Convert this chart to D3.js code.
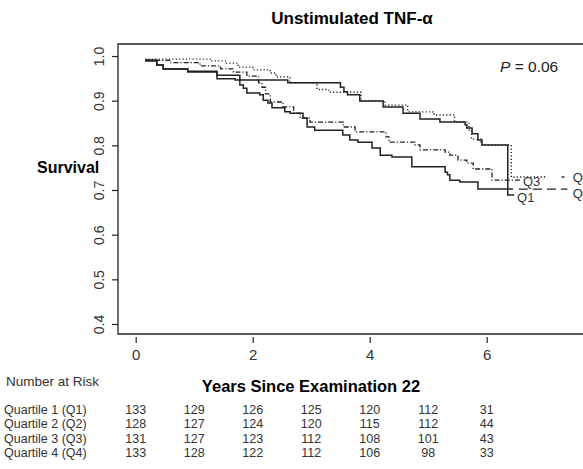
<!DOCTYPE html>
<html><head><meta charset="utf-8">
<script src="https://cdn.jsdelivr.net/npm/d3@7"></script>
<style>body{margin:0;background:#fff}svg{display:block}</style>
</head><body><svg id="c" width="583" height="469"></svg>
<script>
// ---- data ----
const q1Times = [0.16,0.36,0.47,0.89,1.39,1.78,2.6,3.5,3.56,3.62,3.83,4.23,4.57,4.86,5.2,5.63,5.66,5.75,5.85,5.92,6.36,6.47];
const q1Surv  = [0.991,0.98,0.971,0.966,0.957,0.946,0.94,0.93,0.92,0.913,0.899,0.886,0.872,0.859,0.852,0.846,0.839,0.826,0.812,0.801,0.689,0.689];
const q2Times = [0.16,1.3,1.55,1.75,2.0,2.3,2.4,2.64,3.1,3.3,3.85,4.26,4.65,5.1,5.45,5.7,5.74,5.9,6.42,7.0];
const q2Surv  = [0.993,0.989,0.984,0.975,0.969,0.962,0.953,0.94,0.925,0.919,0.899,0.89,0.875,0.868,0.852,0.834,0.814,0.801,0.729,0.729];
const q3Times = [0.16,0.6,1.1,1.45,1.67,1.9,2.1,2.16,2.22,2.3,2.52,2.7,2.81,2.98,3.55,3.75,4.28,4.33,4.77,4.86,5.29,5.37,5.51,5.66,5.77,6.09,6.58];
const q3Surv  = [0.99,0.985,0.978,0.971,0.964,0.955,0.94,0.93,0.915,0.897,0.886,0.872,0.861,0.852,0.841,0.83,0.819,0.807,0.801,0.79,0.785,0.778,0.767,0.76,0.747,0.722,0.722];
const q4Times = [0.16,0.36,0.47,0.89,1.39,1.7,1.78,1.84,1.9,2.12,2.18,2.26,2.33,2.55,2.64,2.86,2.93,3.06,3.54,3.66,3.8,4.04,4.18,4.38,4.72,5.29,5.33,5.37,5.54,5.85,6.45];
const q4Surv  = [0.989,0.98,0.971,0.964,0.949,0.946,0.935,0.928,0.917,0.913,0.901,0.895,0.884,0.875,0.872,0.861,0.841,0.834,0.823,0.812,0.807,0.794,0.778,0.774,0.752,0.74,0.734,0.722,0.718,0.702,0.702];

const yTicks = [0.4,0.5,0.6,0.7,0.8,0.9,1.0];
const xTicks = [0,2,4,6];
const riskYears = [0,1,2,3,4,5,6];
const riskLabels = ["Quartile 1 (Q1)","Quartile 2 (Q2)","Quartile 3 (Q3)","Quartile 4 (Q4)"];
const riskQ1 = [133,129,126,125,120,112,31];
const riskQ2 = [128,127,124,120,115,112,44];
const riskQ3 = [131,127,123,112,108,101,43];
const riskQ4 = [133,128,122,112,106,98,33];
const curveNames = ["Q1","Q2","Q3","Q4"];
const labelTimes = [6.52, 7.47, 6.62, 7.47];

const svg = d3.select("#c");
const x = d3.scaleLinear().domain([0,6]).range([135.7,486.7]);
const y = d3.scaleLinear().domain([0.4,1.0]).range([324,56]);
const FONT = "Liberation Sans, Arial, sans-serif";
const ink = "#222";

// box
svg.append("path").attr("d","M600,44H118V334H600").attr("fill","none").attr("stroke",ink).attr("stroke-width",1.3);

// axes
const ya = svg.append("g").attr("transform","translate(118,0)")
  .call(d3.axisLeft(y).tickValues(yTicks).tickSize(6).tickFormat(d3.format(".1f")));
ya.select(".domain").remove();
ya.selectAll(".tick line").attr("stroke",ink).attr("stroke-width",1.2);
ya.selectAll(".tick text").attr("font-family",FONT).attr("font-size",14).attr("fill","#333")
  .attr("text-anchor","middle").attr("x",0).attr("dy",0)
  .attr("transform","translate(-14,0) rotate(-90)");

const xa = svg.append("g").attr("transform","translate(0,337)")
  .call(d3.axisBottom(x).tickValues(xTicks).tickSize(6).tickFormat(d3.format("d")));
xa.select(".domain").remove();
xa.selectAll(".tick line").attr("stroke",ink).attr("stroke-width",1.2);
xa.selectAll(".tick text").attr("font-family",FONT).attr("font-size",15).attr("fill","#333").attr("y",12);

// curves
const line = d3.line().x(d=>x(d[0])).y(d=>y(d[1])).curve(d3.curveStepAfter);
const series = [
  {t:q1Times,s:q1Surv,dash:null,w:1.5},
  {t:q2Times,s:q2Surv,dash:"1.2,2.2",w:1.4},
  {t:q3Times,s:q3Surv,dash:"5,2,1.2,2",w:1.3},
  {t:q4Times,s:q4Surv,dash:null,w:1.5}
];
series.forEach((sr,i)=>{
  const pts = sr.t.map((t,j)=>[t,sr.s[j]]);
  svg.append("path").datum(pts).attr("d",line).attr("fill","none")
    .attr("stroke",ink).attr("stroke-width",sr.w)
    .attr("stroke-dasharray",sr.dash);
});
// leaders for labels at the far right
const q2End = q2Surv[q2Surv.length-1], q4End = q4Surv[q4Surv.length-1];
svg.append("path").datum([[7.28,q2End],[7.33,q2End]]).attr("d",line).attr("fill","none").attr("stroke",ink).attr("stroke-width",1.4);
svg.append("path").datum([[6.55,q4End],[7.38,q4End]]).attr("d",line).attr("fill","none").attr("stroke",ink).attr("stroke-width",1.3).attr("stroke-dasharray","9,5");

// curve labels
const ends = [q1Surv[q1Surv.length-1], q2End, q3Surv[q3Surv.length-1], q4End];
const offs = [7,5,6,9];
curveNames.forEach((n,i)=>{
  svg.append("text").attr("x",x(labelTimes[i])).attr("y",y(ends[i])+offs[i])
    .attr("font-family",FONT).attr("font-size",13).attr("fill","#333").text(n);
});

// titles
svg.append("text").attr("x",352).attr("y",24).attr("text-anchor","middle")
  .attr("font-family",FONT).attr("font-weight","bold").attr("font-size",17).text("Unstimulated TNF-α");
svg.append("text").attr("x",37).attr("y",173).attr("font-family",FONT).attr("font-weight","bold").attr("font-size",16).text("Survival");
svg.append("text").attr("x",311).attr("y",392).attr("text-anchor","middle")
  .attr("font-family",FONT).attr("font-weight","bold").attr("font-size",16.5).text("Years Since Examination 22");
const pt = svg.append("text").attr("x",500).attr("y",72).attr("font-family",FONT).attr("font-size",15.5).attr("fill","#222");
pt.append("tspan").attr("font-style","italic").text("P");
pt.append("tspan").text(" = 0.06");

// number at risk
svg.append("text").attr("x",6).attr("y",386).attr("font-family",FONT).attr("font-size",13.5).attr("fill","#333").text("Number at Risk");
const riskRows = [riskQ1,riskQ2,riskQ3,riskQ4];
const rowY = d3.scaleLinear().domain([0,3]).range([414,457]);
riskRows.forEach((row,i)=>{
  svg.append("text").attr("x",4).attr("y",rowY(i)).attr("font-family",FONT).attr("font-size",12.5).attr("fill","#333").text(riskLabels[i]);
  row.forEach((v,j)=>{
    svg.append("text").attr("x",x(riskYears[j])).attr("y",rowY(i)).attr("text-anchor","middle")
      .attr("font-family",FONT).attr("font-size",12.5).attr("fill","#333").text(v);
  });
});
</script></body></html>
